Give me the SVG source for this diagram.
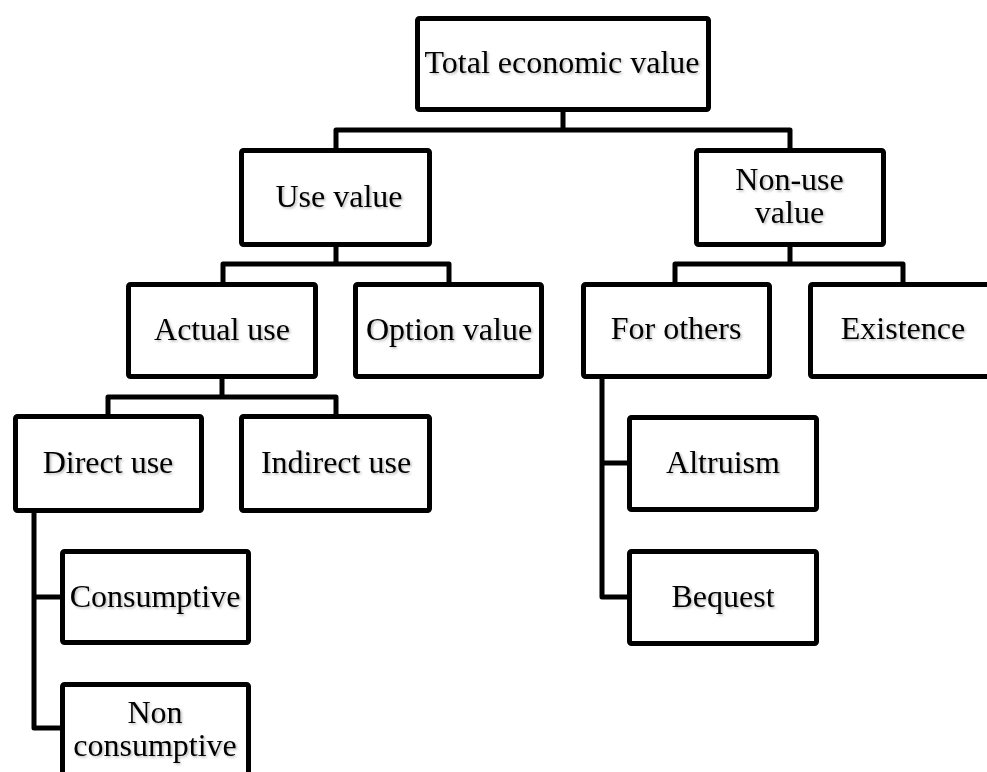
<svg xmlns="http://www.w3.org/2000/svg" width="987" height="772" viewBox="0 0 987 772">
<defs>
<filter id="ts" x="-10%" y="-30%" width="130%" height="170%">
<feDropShadow dx="1.5" dy="1.5" stdDeviation="1" flood-color="#000" flood-opacity="0.28"/>
</filter>
</defs>
<style>
.box{fill:#fff;stroke:#000;stroke-width:5;stroke-linejoin:round}
.ln{fill:none;stroke:#000;stroke-width:5;stroke-linejoin:round;stroke-linecap:square}
text{font-family:"Liberation Serif","Times New Roman",serif;font-size:32px;fill:#000;text-anchor:middle;filter:url(#ts)}
</style>
<rect width="987" height="772" fill="#fff"/>
<g id="connectors">
<path class="ln" d="M563,112 V130 M336,148 V130 H790 V148"/>
<path class="ln" d="M336,247 V264 M223,282 V264 H449 V282"/>
<path class="ln" d="M790,247 V264 M675,282 V264 H903 V282"/>
<path class="ln" d="M222,379 V397 M108,414 V397 H336 V414"/>
<path class="ln" d="M34,513 V728 H60 M34,597 H60"/>
<path class="ln" d="M602,379 V597 H627 M602,463 H627"/>
</g>
<g id="total">
<rect class="box" x="417.5" y="18.5" width="291" height="91" rx="2"/>
<text x="562" y="73">Total economic value</text>
</g>
<g id="use">
<rect class="box" x="241.5" y="150.5" width="188" height="94" rx="2"/>
<text x="339" y="207">Use value</text>
</g>
<g id="nonuse">
<rect class="box" x="696.5" y="150.5" width="187" height="94" rx="2"/>
<text x="789.5" y="190">Non-use</text>
<text x="789.5" y="223">value</text>
</g>
<g id="actual">
<rect class="box" x="128.5" y="284.5" width="187" height="92" rx="2"/>
<text x="222" y="340">Actual use</text>
</g>
<g id="option">
<rect class="box" x="355.5" y="284.5" width="186" height="92" rx="2"/>
<text x="449" y="340">Option value</text>
</g>
<g id="forothers">
<rect class="box" x="583.5" y="284.5" width="186" height="92" rx="2"/>
<text x="676" y="339">For others</text>
</g>
<g id="existence">
<rect class="box" x="810.5" y="284.5" width="186" height="92" rx="2"/>
<text x="903" y="339">Existence</text>
</g>
<g id="direct">
<rect class="box" x="15.5" y="416.5" width="186" height="94" rx="2"/>
<text x="108" y="473">Direct use</text>
</g>
<g id="indirect">
<rect class="box" x="241.5" y="416.5" width="188" height="94" rx="2"/>
<text x="336" y="473">Indirect use</text>
</g>
<g id="altruism">
<rect class="box" x="629.5" y="417.5" width="187" height="92" rx="2"/>
<text x="723" y="473">Altruism</text>
</g>
<g id="bequest">
<rect class="box" x="629.5" y="551.5" width="187" height="92" rx="2"/>
<text x="723" y="607">Bequest</text>
</g>
<g id="consumptive">
<rect class="box" x="62.5" y="551.5" width="186" height="91" rx="2"/>
<text x="155" y="607">Consumptive</text>
</g>
<g id="nonconsumptive">
<rect class="box" x="62.5" y="684.5" width="186" height="91" rx="2"/>
<text x="155" y="723">Non</text>
<text x="155" y="756">consumptive</text>
</g>
</svg>
